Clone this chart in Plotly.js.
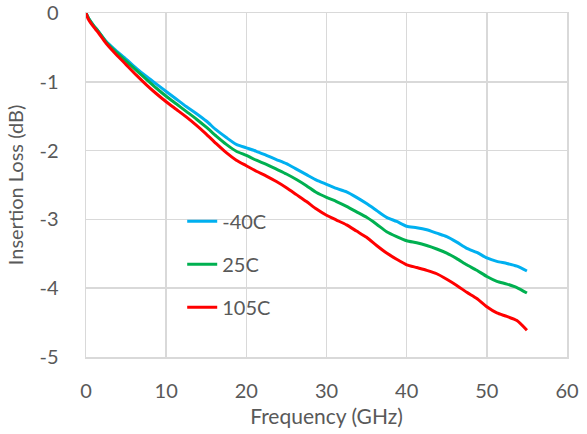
<!DOCTYPE html>
<html>
<head>
<meta charset="utf-8">
<script src="https://cdn.plot.ly/plotly-3.0.1.min.js"></script>
<style>html,body{margin:0;padding:0;background:#fff;}#chart{width:587px;height:434px;}</style>
</head>
<body>
<div id="chart"></div>
<script>
const freq = [0, 0.25, 0.5, 1, 1.5, 2.5, 3.5, 5, 6.25, 7.5, 8.75, 10, 11.25, 12.5, 13.75, 15, 16.25, 17.5, 18.75, 20, 21.25, 22.5, 23.75, 25, 26.25, 27.5, 28.75, 30, 31.25, 32.5, 33.75, 35, 36.25, 37.5, 38.75, 40, 41.25, 42.5, 43.75, 45, 46.25, 47.5, 48.75, 50, 51.25, 52.5, 53.75, 55];
const lossM40 = [0, -0.06, -0.11, -0.19, -0.26, -0.41, -0.52, -0.67, -0.80, -0.92, -1.03, -1.14, -1.25, -1.36, -1.46, -1.57, -1.70, -1.81, -1.91, -1.96, -2.01, -2.07, -2.13, -2.19, -2.27, -2.35, -2.43, -2.49, -2.55, -2.60, -2.68, -2.77, -2.87, -2.97, -3.03, -3.10, -3.12, -3.15, -3.20, -3.25, -3.33, -3.42, -3.48, -3.56, -3.61, -3.64, -3.68, -3.75];
const loss25 = [0, -0.06, -0.11, -0.19, -0.26, -0.42, -0.54, -0.70, -0.83, -0.96, -1.09, -1.21, -1.32, -1.43, -1.54, -1.66, -1.79, -1.91, -2.01, -2.07, -2.14, -2.20, -2.27, -2.34, -2.42, -2.51, -2.61, -2.68, -2.74, -2.81, -2.89, -2.97, -3.07, -3.18, -3.25, -3.31, -3.34, -3.38, -3.43, -3.49, -3.57, -3.66, -3.74, -3.83, -3.90, -3.94, -3.99, -4.07];
const loss105 = [0, -0.08, -0.13, -0.21, -0.28, -0.44, -0.57, -0.75, -0.90, -1.04, -1.17, -1.29, -1.40, -1.51, -1.63, -1.76, -1.90, -2.03, -2.14, -2.22, -2.30, -2.37, -2.45, -2.54, -2.64, -2.74, -2.85, -2.94, -3.01, -3.08, -3.17, -3.26, -3.38, -3.49, -3.58, -3.66, -3.70, -3.74, -3.79, -3.87, -3.96, -4.06, -4.15, -4.27, -4.36, -4.41, -4.47, -4.61];
const seriesNames = ['-40C', '25C', '105C'];
const xTickVals = [0, 10, 20, 30, 40, 50, 60];
const xTickText = ['0', '10', '20', '30', '40', '50', '60'];
const yTickVals = [0, -1, -2, -3, -4, -5];
const yTickText = ['0', '-1', '-2', '-3', '-4', '-5'];

const colors = ['#00B0F0', '#00B050', '#FF0000'];
const ys = [lossM40, loss25, loss105];
const traces = ys.map((y, i) => ({
  x: freq, y: y, name: seriesNames[i], type: 'scatter', mode: 'lines',
  legendgroup: 'g' + i,
  line: {color: colors[i], width: 3, shape: 'spline', smoothing: 0.6}
}));

const fontFam = 'Lato, "Open Sans", sans-serif';
const gray = '#595959';
const fs = 20;
const layout = {
  width: 587, height: 434,
  margin: {l: 86, r: 20, t: 13, b: 77},
  paper_bgcolor: '#fff', plot_bgcolor: '#fff',
  font: {family: fontFam, size: fs, color: gray},
  showlegend: true,
  legend: {x: 0.2, y: 0.451, xanchor: 'left', yanchor: 'top', bgcolor: 'rgba(0,0,0,0)',
           font: {family: fontFam, size: fs, color: gray}, traceorder: 'grouped', tracegroupgap: 14},
  xaxis: {
    range: [0, 60], tickmode: 'array', tickvals: xTickVals, ticktext: xTickText,
    showgrid: true, gridcolor: '#d9d9d9', gridwidth: 1.5, zeroline: false,
    showline: true, mirror: true, linecolor: '#d9d9d9', linewidth: 1.5,
    ticks: '', ticklabelstandoff: 15,
    tickfont: {family: fontFam, size: fs, color: gray},
    title: {text: 'Frequency (GHz)', font: {family: fontFam, size: fs + 1, color: gray}, standoff: 9}
  },
  yaxis: {
    range: [-5, 0], tickmode: 'array', tickvals: yTickVals, ticktext: yTickText,
    showgrid: true, gridcolor: '#d9d9d9', gridwidth: 1.5, zeroline: false,
    showline: true, mirror: true, linecolor: '#d9d9d9', linewidth: 1.5,
    ticks: '', ticklabelstandoff: 22,
    tickfont: {family: fontFam, size: fs, color: gray},
    title: {text: 'Insertion Loss (dB)', font: {family: fontFam, size: fs, color: gray}, standoff: 10}
  }
};
Plotly.newPlot('chart', traces, layout, {displayModeBar: false, staticPlot: true});
</script>
</body>
</html>
